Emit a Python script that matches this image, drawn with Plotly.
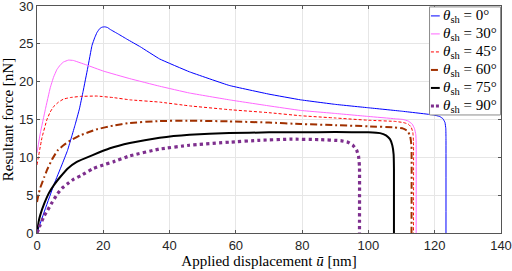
import plotly.graph_objects as go

# ---- data ----
names = ["0°", "30°", "45°", "60°", "75°", "90°"]

u_0 = [0, 2.5, 5.2, 7.5, 9.2, 10.5, 11.5, 12.8, 13.9, 15.3, 16.6, 17.4, 18.1, 18.9, 19.6, 20.5, 21.3, 22.1, 24.5, 27.2, 31.2, 37, 46, 58, 70, 79.5, 90, 100, 110, 119.7, 121.5, 122.5, 123.1, 123.35, 123.4, 123.4]
F_0 = [0, 3.2, 6.5, 9.0, 10.9, 12.8, 14.3, 16.4, 18.7, 21.8, 24.8, 25.8, 26.5, 27.0, 27.2, 27.25, 27.15, 26.9, 26.3, 25.6, 24.6, 23.0, 21.3, 19.5, 18.35, 17.6, 17.0, 16.55, 16.1, 15.6, 15.4, 15.1, 14.6, 13.8, 12.5, 0]

u_30 = [0, 1, 2.5, 4, 5, 6, 7, 8, 9.5, 11, 13, 15, 20, 28, 37, 46, 58, 70, 79.5, 90, 100, 108, 110.5, 112, 113.2, 113.9, 114.3, 114.4, 114.4]
F_30 = [10.6, 13.2, 16.3, 19.2, 20.6, 21.6, 22.2, 22.6, 22.85, 22.8, 22.5, 22.2, 21.4, 20.4, 19.4, 18.5, 17.6, 16.8, 16.2, 15.8, 15.4, 15.1, 15.0, 14.8, 14.4, 13.8, 13.0, 12.0, 0]

u_45 = [0, 1.5, 3, 4, 5, 6.5, 8, 10, 13, 18, 23, 28, 37, 46, 58, 70, 79.5, 90, 100, 108, 110.5, 112, 112.9, 113.4, 113.6, 113.6]
F_45 = [9.0, 12.6, 15.0, 16.0, 16.7, 17.3, 17.7, 17.9, 18.05, 18.1, 17.9, 17.6, 17.3, 16.8, 16.3, 15.9, 15.5, 15.2, 14.9, 14.75, 14.6, 14.4, 14.0, 13.3, 12.0, 0]

u_60 = [0, 0.5, 1, 2.2, 3, 4.5, 6.2, 8, 10, 13, 18, 23, 28, 37, 46, 58, 70, 79.5, 90, 100, 108, 110.5, 111.8, 112.6, 113, 113]
F_60 = [4.1, 5.2, 6.0, 7.4, 8.3, 9.7, 10.9, 11.6, 12.2, 12.9, 13.7, 14.2, 14.55, 14.8, 14.85, 14.75, 14.6, 14.4, 14.25, 14.1, 13.95, 13.8, 13.5, 12.8, 11.5, 0]

u_75 = [0, 0.5, 1, 2.2, 3.5, 5.2, 7, 9.2, 12, 16.8, 22, 28, 37, 46, 58, 70, 79.5, 90, 100, 103.5, 105.3, 106.5, 107.2, 107.6, 107.7, 107.7]
F_75 = [0, 1.5, 2.4, 3.9, 5.2, 6.4, 7.4, 8.5, 9.4, 10.3, 11.2, 11.9, 12.6, 13.0, 13.2, 13.3, 13.3, 13.35, 13.3, 13.2, 12.9, 12.4, 11.6, 10.4, 8.5, 0]

u_90 = [0, 1, 2.2, 3.2, 4.5, 6.2, 7.5, 9.2, 11, 13.3, 16.8, 20, 23, 28, 37, 46, 58, 67, 76.5, 85, 91.6, 93.8, 95.3, 96.4, 97.0, 97.3, 97.3]
F_90 = [0, 1.1, 2.3, 3.0, 4.0, 5.2, 5.9, 6.5, 7.1, 7.6, 8.5, 9.0, 9.4, 10.2, 11.1, 11.6, 12.0, 12.25, 12.4, 12.35, 12.2, 12.0, 11.6, 11.0, 10.2, 8.8, 0]

x_ticks = [0, 20, 40, 60, 80, 100, 120, 140]
y_ticks = [0, 5, 10, 15, 20, 25, 30]

series = [(u_0, F_0), (u_30, F_30), (u_45, F_45), (u_60, F_60), (u_75, F_75), (u_90, F_90)]
styles = [
    dict(color="#0000ff", width=1, dash="solid"),
    dict(color="#ff66ff", width=1, dash="solid"),
    dict(color="#ff0000", width=1, dash="3px,2px"),
    dict(color="#a03000", width=2, dash="7px,3px,2px,3px"),
    dict(color="#000000", width=2, dash="solid"),
    dict(color="#7e2f8e", width=3.2, dash="dot"),
]

fig = go.Figure()
for (u, F), st, nm in zip(series, styles, names):
    fig.add_trace(go.Scatter(x=u, y=F, mode="lines", line=st, showlegend=False,
                             name=nm, line_shape="spline", line_smoothing=0.25))

# ---- manual legend (MATLAB-style short samples) ----
lx0, lx1, ly0, ly1 = 0.846, 0.999, 0.52, 0.996
fig.add_shape(type="rect", xref="paper", yref="paper", x0=lx0, x1=lx1, y0=ly0, y1=ly1,
              line=dict(color="#8c8c8c", width=1), fillcolor="white", layer="above")
row_h = (ly1 - ly0) / 6
for i, (st, nm) in enumerate(zip(styles, names)):
    yc = ly1 - row_h * (i + 0.5)
    fig.add_shape(type="line", xref="paper", yref="paper", x0=lx0 + 0.003, x1=lx0 + 0.022,
                  y0=yc, y1=yc, line=dict(color=st["color"], width=min(st["width"], 3),
                  dash=st["dash"] if st["dash"] != "dot" else "3px,2px"), layer="above")
    fig.add_annotation(xref="paper", yref="paper", x=lx0 + 0.024, y=yc, xanchor="left",
                       yanchor="middle", showarrow=False,
                       text="<i>θ</i><sub>sh</sub> = " + nm,
                       font=dict(family="Liberation Serif", size=15, color="#000000"))

axis_common = dict(showgrid=True, gridcolor="#e6e6e6", gridwidth=1, zeroline=False,
                   showline=True, linecolor="#555555", linewidth=1, mirror="ticks",
                   ticks="inside", ticklen=3, tickcolor="#555555", automargin=False,
                   ticklabeloverflow="allow",
                   tickfont=dict(family="Liberation Sans", size=13, color="#262626"))

fig.update_layout(
    width=512, height=271,
    margin=dict(l=37, r=11, t=6, b=38),
    paper_bgcolor="white", plot_bgcolor="white",
    xaxis=dict(range=[0, 140], tickvals=x_ticks, **axis_common,
               title=dict(text="Applied displacement <i>ū</i> [nm]", standoff=2,
                          font=dict(family="Liberation Serif", size=15, color="#000000"))),
    yaxis=dict(range=[0, 30], tickvals=y_ticks, **axis_common,
               title=dict(text="Resultant force [nN]", standoff=4,
                          font=dict(family="Liberation Serif", size=15, color="#000000"))),
)

fig.write_html("out.html", config={"displayModeBar": False},
               post_script="document.body.style.margin='0';document.body.style.overflow='hidden';")
